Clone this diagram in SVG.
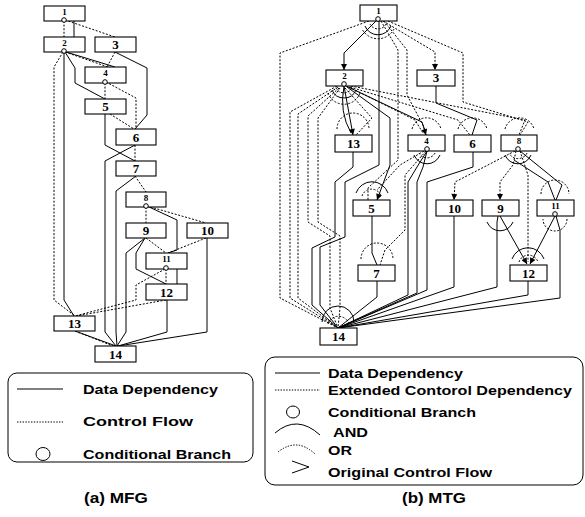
<svg xmlns="http://www.w3.org/2000/svg" width="585" height="517" viewBox="0 0 585 517">
<style>
.box{fill:#fff;stroke:#000;stroke-width:1.1}
.s{fill:none;stroke:#000;stroke-width:1}
.d{fill:none;stroke:#000;stroke-width:1;stroke-dasharray:2 1.6}
.lg{fill:none;stroke:#000;stroke-width:1}
.c{fill:#fff;stroke:#000;stroke-width:1}
.n{font-family:"Liberation Serif",serif;font-weight:bold;font-size:13px;text-anchor:middle;fill:#000}
.sm{font-size:9px}
.t{font-family:"Liberation Sans",Arial,sans-serif;font-weight:bold;font-size:13px;fill:#000}
.cap{font-family:"Liberation Sans",Arial,sans-serif;font-weight:bold;font-size:15px;fill:#000}
</style>
<defs>
<marker id="ah" viewBox="0 0 10 10" refX="10" refY="5" markerWidth="9" markerHeight="6" orient="auto" markerUnits="userSpaceOnUse"><path d="M0,0 L10,5 L0,10 z" fill="#000"/></marker>
</defs>
<rect width="585" height="517" fill="#fff"/>

<!-- ========== (a) MFG ========== -->
<g id="mfg-edges">
<path class="s" d="M74,21 L74,37"/>
<path class="s" d="M64,52 L64,300 L74,316"/>
<path class="s" d="M65,52 L75,68 L75,83 L105,99"/>
<path class="s" d="M66,52 L115,67"/>
<path class="s" d="M115,52 L147,68 L147,115 L135,129"/>
<path class="s" d="M105,114 L105,145 L135,161"/>
<path class="s" d="M135,145 L105,161 L105,332 L116,346"/>
<path class="s" d="M136,176 L116,191 L116,332 L117,346"/>
<path class="s" d="M147,206 L177,220 L177,250 L168,253"/>
<path class="s" d="M145,238 L126,253 L126,332 L117,346"/>
<path class="s" d="M145,238 L136,253 L136,269 L166,284"/>
<path class="s" d="M207,238 L207,332 L118,346"/>
<path class="s" d="M177,269 L177,284"/>
<path class="s" d="M167,300 L167,332 L118,346"/>
<path class="s" d="M75,331 L116,346"/>
<path class="d" d="M64,21 L64,37"/>
<path class="d" d="M65,20 L115,37"/>
<path class="d" d="M63,52 L54,67 L54,300 L75,316"/>
<path class="d" d="M65,52 L108,67"/>
<path class="d" d="M115,52 L107,67"/>
<path class="d" d="M105,83 L105,99"/>
<path class="d" d="M106,82 L136,98 L136,129"/>
<path class="d" d="M110,114 L134,129"/>
<path class="d" d="M135,145 L135,161"/>
<path class="d" d="M135,176 L146,192"/>
<path class="d" d="M146,207 L146,223"/>
<path class="d" d="M147,206 L206,223"/>
<path class="d" d="M146,238 L166,253"/>
<path class="d" d="M206,238 L168,253"/>
<path class="d" d="M166,269 L166,284"/>
<path class="d" d="M165,269 L136,285 L136,300 L75,316"/>
<path class="d" d="M166,300 L76,316"/>
<path class="d" d="M75,331 L113,346"/>
</g>
<g id="a1"><rect class="box" x="44" y="6" width="41" height="15"/><text class="n sm" x="64.5" y="15">1</text><circle class="c" cx="64" cy="20" r="2.3"/></g>
<g id="a2"><rect class="box" x="44" y="37" width="41" height="15"/><text class="n sm" x="64.5" y="46">2</text><circle class="c" cx="64" cy="51" r="2.3"/></g>
<g id="a3"><rect class="box" x="95" y="37" width="41" height="15"/><text class="n" x="115.5" y="49">3</text></g>
<g id="a4"><rect class="box" x="85" y="67" width="41" height="16"/><text class="n sm" x="105.5" y="76">4</text><circle class="c" cx="105" cy="82" r="2.3"/></g>
<g id="a5"><rect class="box" x="85" y="99" width="41" height="15"/><text class="n" x="105.5" y="111">5</text></g>
<g id="a6"><rect class="box" x="116" y="129" width="40" height="16"/><text class="n" x="136" y="142">6</text></g>
<g id="a7"><rect class="box" x="116" y="161" width="40" height="15"/><text class="n" x="136" y="173">7</text></g>
<g id="a8"><rect class="box" x="126" y="192" width="40" height="15"/><text class="n sm" x="146" y="201">8</text><circle class="c" cx="146" cy="206" r="2.3"/></g>
<g id="a9"><rect class="box" x="126" y="223" width="40" height="15"/><text class="n" x="146" y="235">9</text></g>
<g id="a10"><rect class="box" x="187" y="223" width="41" height="15"/><text class="n" x="207.5" y="235">10</text></g>
<g id="a11"><rect class="box" x="146" y="253" width="41" height="16"/><text class="n sm" x="166.5" y="262">11</text><circle class="c" cx="166" cy="268" r="2.3"/></g>
<g id="a12"><rect class="box" x="146" y="284" width="41" height="16"/><text class="n" x="166.5" y="297">12</text></g>
<g id="a13"><rect class="box" x="54" y="316" width="41" height="15"/><text class="n" x="74.5" y="328">13</text></g>
<g id="a14"><rect class="box" x="95" y="346" width="41" height="16"/><text class="n" x="115.5" y="359">14</text></g>

<g id="legend-a">
<rect x="8" y="373" width="245" height="89" rx="9" fill="none" stroke="#000" stroke-width="1"/>
<line class="lg" x1="17" y1="389" x2="63" y2="389"/>
<text class="t" x="83" y="394" textLength="135" lengthAdjust="spacingAndGlyphs">Data Dependency</text>
<line x1="17" y1="422" x2="63" y2="422" stroke="#000" stroke-width="1.2" stroke-dasharray="1.4 1.4"/>
<text class="t" x="83" y="426" textLength="110" lengthAdjust="spacingAndGlyphs">Control Flow</text>
<ellipse cx="43" cy="454" rx="7" ry="6.5" fill="none" stroke="#000"/>
<text class="t" x="83" y="459" textLength="148" lengthAdjust="spacingAndGlyphs">Conditional Branch</text>
</g>
<text class="cap" x="84" y="503" textLength="64" lengthAdjust="spacingAndGlyphs">(a) MFG</text>

<!-- ========== (b) MTG ========== -->
<g id="mtg-edges">
<path class="s" d="M376,21 L344,53 L344,70" marker-end="url(#ah)"/>
<path class="s" d="M379,21 L379,165 L345,182 L345,237 L320,247 L320,305 L338,328"/>
<path class="s" d="M353,152 L353,167 L335,182 L335,237 L312,248 L312,305 L338,328"/>
<path class="s" d="M344,86 L353,135" marker-end="url(#ah)"/>
<path class="s" d="M344,86 Q339,112 351,133"/>
<path class="s" d="M346,86 L422,122 L426,135" marker-end="url(#ah)"/>
<path class="s" d="M347,87 L390,118 L390,165 L377,200" marker-end="url(#ah)"/>
<path class="s" d="M436,86 L436,103 L477,120 L472,135"/>
<path class="s" d="M427,151 L417,167 L408,182 L408,295 L338,328"/>
<path class="s" d="M427,151 L423,167 L417,182 L417,293 L338,328"/>
<path class="s" d="M473,152 L473,167 L427,182 L427,290 L338,328"/>
<path class="s" d="M372,216 L372,253 L377,265"/>
<path class="s" d="M377,281 L377,297 L338,328"/>
<path class="s" d="M454,216 L454,287 L338,328"/>
<path class="s" d="M520,151 L562,185 L556,200"/>
<path class="s" d="M514,160 L548,182 L555,200"/>
<path class="s" d="M500,216 L527,264" marker-end="url(#ah)"/>
<path class="s" d="M498,216 L497,222 L497,287 L338,328"/>
<path class="s" d="M555,216 L530,264" marker-end="url(#ah)"/>
<path class="s" d="M556,216 L560,230 L560,298 L338,328"/>
<path class="s" d="M528,281 L528,295 L338,328"/>

<path class="d" d="M383,21 L435,52 L435,70" marker-end="url(#ah)"/>
<path class="d" d="M388,21 L463,53 L463,102 L528,122 L520,135"/>
<path class="d" d="M369,21 L280,53 L280,298 L338,328"/>
<path class="d" d="M381,21 L398,50 L398,160 L368,188 L368,200"/>
<path class="d" d="M384,21 L407,50 L407,95 L424,127 L426,135"/>
<path class="d" d="M337,86 L290,112 L290,298 L338,328"/>
<path class="d" d="M338,87 L298,114 L298,298 L338,328"/>
<path class="d" d="M339,88 L308,116 L308,222 L330,236 L330,308 L338,328"/>
<path class="d" d="M340,88 L318,118 L318,222 L340,236 L340,308 L338,328"/>
<path class="d" d="M345,88 L372,118 L356,135"/>
<path class="d" d="M349,87 L415,120 L423,133"/>
<path class="d" d="M350,87 L458,120 L470,135"/>
<path class="d" d="M351,86 L525,120 L519,135"/>
<path class="d" d="M424,151 L400,165 L377,190"/>
<path class="d" d="M426,151 L405,175 L405,230 L385,250 L380,265"/>
<path class="d" d="M515,151 L455,182 L454,200" marker-end="url(#ah)"/>
<path class="d" d="M516,151 L513,165 L500,182 L500,200" marker-end="url(#ah)"/>
<path class="d" d="M520,151 L528,175 L528,262"/>

<!-- AND / OR arcs -->
<path class="s" d="M391,26 A14,14 0 0 1 365,26"/>
<path class="d" d="M386,24 A9,9 0 0 1 370,24"/>
<path class="d" d="M394,29 A18,18 0 0 1 362,29"/>
<path class="s" d="M356,90 A13,13 0 0 1 332,90"/>
<path class="d" d="M352,88 A9,9 0 0 1 336,88"/>
<path class="d" d="M360,93 A17,17 0 0 1 328,93"/>
<path class="d" d="M337,129 A16,16 0 0 1 369,129"/>
<path class="d" d="M412,129 A15,15 0 0 1 441,129"/>
<path class="s" d="M440,155 A14,14 0 0 1 414,155"/>
<path class="d" d="M435,153 A9,9 0 0 1 419,153"/>
<path class="d" d="M458,129 A15,15 0 0 1 487,129"/>
<path class="d" d="M505,129 A15,15 0 0 1 534,129"/>
<path class="s" d="M531,155 A14,14 0 0 1 505,155"/>
<path class="d" d="M527,153 A10,10 0 0 1 509,153"/>
<path class="s" d="M356,193 A17,17 0 0 1 388,193"/>
<path class="d" d="M362,196 A10,10 0 0 1 381,196"/>
<path class="d" d="M361,259 A16,16 0 0 1 393,259"/>
<path class="s" d="M513,222 A14,14 0 0 1 487,222"/>
<path class="d" d="M541,194 A14,14 0 0 1 569,194"/>
<path class="d" d="M567,219 A12,12 0 0 1 543,219"/>
<path class="s" d="M512,259 A17,17 0 0 1 544,259"/>
<path class="d" d="M519,262 A10,10 0 0 1 538,262"/>
<path class="s" d="M322,322 A16,16 0 0 1 354,322"/>
<path class="d" d="M328,324 A11,11 0 0 1 349,324"/>
</g>

<g id="b1"><rect class="box" x="360" y="5" width="37" height="16"/><text class="n sm" x="378.5" y="14">1</text><circle class="c" cx="378" cy="19" r="2.3"/></g>
<g id="b2"><rect class="box" x="326" y="70" width="37" height="16"/><text class="n sm" x="344.5" y="79">2</text><circle class="c" cx="344" cy="84" r="2.3"/></g>
<g id="b3"><rect class="box" x="417" y="70" width="38" height="16"/><text class="n" x="436" y="82">3</text></g>
<g id="b13"><rect class="box" x="335" y="135" width="37" height="17"/><text class="n" x="353.5" y="148">13</text></g>
<g id="b4"><rect class="box" x="408" y="135" width="37" height="16"/><text class="n sm" x="426.5" y="144">4</text><circle class="c" cx="427" cy="149" r="2.3"/></g>
<g id="b6"><rect class="box" x="454" y="135" width="37" height="17"/><text class="n" x="472.5" y="148">6</text></g>
<g id="b8"><rect class="box" x="501" y="135" width="36" height="16"/><text class="n sm" x="519" y="144">8</text><circle class="c" cx="518" cy="149" r="2.3"/></g>
<g id="b5"><rect class="box" x="353" y="200" width="37" height="16"/><text class="n" x="371.5" y="213">5</text></g>
<g id="b10"><rect class="box" x="436" y="200" width="37" height="16"/><text class="n" x="454.5" y="213">10</text></g>
<g id="b9"><rect class="box" x="482" y="200" width="37" height="16"/><text class="n" x="500.5" y="213">9</text></g>
<g id="b11"><rect class="box" x="537" y="200" width="37" height="16"/><text class="n sm" x="555.5" y="209">11</text><circle class="c" cx="555" cy="214" r="2.3"/></g>
<g id="b7"><rect class="box" x="358" y="265" width="37" height="16"/><text class="n" x="376.5" y="278">7</text></g>
<g id="b12"><rect class="box" x="510" y="265" width="37" height="16"/><text class="n" x="528.5" y="278">12</text></g>
<g id="b14"><rect class="box" x="320" y="328" width="37" height="17"/><text class="n" x="338.5" y="341">14</text></g>

<g id="legend-b">
<rect x="265" y="357" width="318" height="128" rx="10" fill="none" stroke="#000" stroke-width="1"/>
<line class="lg" x1="275" y1="373" x2="320" y2="373"/>
<text class="t" x="328" y="378" textLength="135" lengthAdjust="spacingAndGlyphs">Data Dependency</text>
<line x1="275" y1="390" x2="320" y2="390" stroke="#000" stroke-width="1" stroke-dasharray="1.4 1.4"/>
<text class="t" x="328" y="395" textLength="244" lengthAdjust="spacingAndGlyphs">Extended Contorol Dependency</text>
<ellipse cx="293" cy="412" rx="6.5" ry="6" fill="none" stroke="#000"/>
<text class="t" x="328" y="417" textLength="148" lengthAdjust="spacingAndGlyphs">Conditional Branch</text>
<path class="lg" d="M275,433 Q297,414 320,435"/>
<text class="t" x="333" y="437" textLength="35" lengthAdjust="spacingAndGlyphs">AND</text>
<path d="M278,452 Q297,437 315,454" fill="none" stroke="#000" stroke-width="1" stroke-dasharray="1.4 1.4"/>
<text class="t" x="328" y="455" textLength="24" lengthAdjust="spacingAndGlyphs">OR</text>
<path class="lg" d="M292,461 L309,467 L292,473"/>
<text class="t" x="328" y="477" textLength="164" lengthAdjust="spacingAndGlyphs">Original Control Flow</text>
</g>
<text class="cap" x="402" y="503" textLength="64" lengthAdjust="spacingAndGlyphs">(b) MTG</text>
</svg>
